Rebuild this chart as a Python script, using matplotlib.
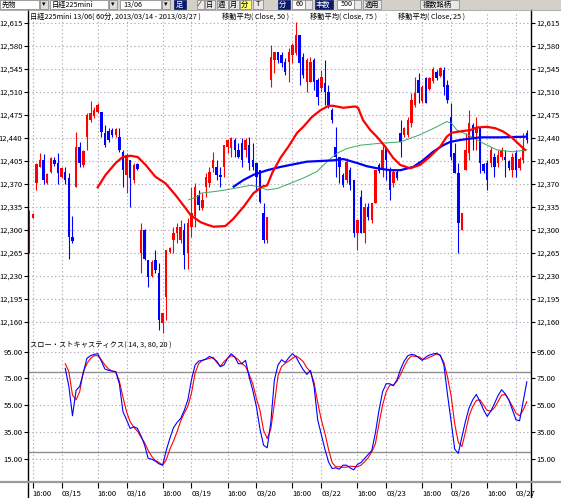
import matplotlib
matplotlib.use('Agg')
import matplotlib.pyplot as plt
from matplotlib.patches import Rectangle
from matplotlib.lines import Line2D

plt.rcParams['font.family'] = ['Noto Sans CJK JP', 'DejaVu Sans']

# ---------------- data ----------------
opens = [12270, 12318, 12372, 12396, 12406, 12372, 12389, 12406, 12402, 12381,
         12388, 12379, 12290, 12365, 12426, 12399, 12442, 12467, 12473, 12480,
         12480, 12448, 12450, 12452, 12444, 12442, 12419, 12384, 12406, 12376,
         12400, 12265, 12300, 12254, 12230, 12254, 12235, 12159, 12198, 12266,
         12285, 12296, 12285, 12300, 12265, 12305, 12322, 12353, 12333, 12365,
         12371, 12394, 12396, 12384, 12396, 12426, 12425, 12437, 12422, 12432,
         12422, 12429, 12406, 12402, 12391, 12326, 12285, 12528, 12559, 12571,
         12566, 12556, 12556, 12566, 12569, 12597, 12563, 12525, 12525, 12559,
         12528, 12516, 12524, 12510, 12483, 12426, 12411, 12384, 12376, 12391,
         12376, 12295, 12350, 12295, 12335, 12315, 12341, 12399, 12391, 12426,
         12391, 12371, 12388, 12448, 12444, 12445, 12463, 12490, 12528, 12496,
         12531, 12515, 12527, 12540, 12534, 12543, 12521, 12472, 12417, 12387,
         12300, 12391, 12417, 12460, 12448, 12457, 12400, 12402, 12402, 12411,
         12402, 12411, 12411, 12405, 12391, 12417, 12394, 12406, 12448]
highs = [12330, 12326, 12402, 12417, 12416, 12387, 12411, 12411, 12417, 12396,
         12396, 12387, 12322, 12449, 12434, 12422, 12478, 12496, 12487, 12493,
         12480, 12460, 12455, 12455, 12455, 12455, 12422, 12417, 12406, 12402,
         12402, 12311, 12302, 12254, 12254, 12270, 12250, 12174, 12270, 12274,
         12305, 12311, 12315, 12310, 12318, 12365, 12372, 12361, 12356, 12387,
         12396, 12419, 12406, 12396, 12429, 12437, 12442, 12440, 12432, 12440,
         12440, 12442, 12432, 12402, 12391, 12341, 12320, 12582, 12571, 12571,
         12571, 12562, 12577, 12585, 12617, 12597, 12569, 12562, 12563, 12562,
         12531, 12543, 12559, 12521, 12486, 12457, 12411, 12387, 12410, 12396,
         12376, 12315, 12361, 12341, 12341, 12341, 12391, 12402, 12432, 12426,
         12396, 12391, 12391, 12467, 12457, 12472, 12508, 12533, 12539, 12521,
         12533, 12533, 12548, 12543, 12548, 12548, 12528, 12493, 12432, 12402,
         12326, 12448, 12483, 12463, 12472, 12457, 12402, 12406, 12426, 12417,
         12422, 12426, 12422, 12406, 12417, 12422, 12411, 12448, 12452]
lows = [12265, 12318, 12361, 12396, 12370, 12370, 12387, 12397, 12370, 12379,
        12370, 12256, 12280, 12365, 12396, 12396, 12422, 12464, 12470, 12478,
        12442, 12426, 12434, 12442, 12442, 12419, 12365, 12356, 12335, 12372,
        12391, 12235, 12254, 12213, 12228, 12235, 12148, 12143, 12163, 12265,
        12265, 12280, 12280, 12240, 12240, 12290, 12305, 12330, 12330, 12350,
        12365, 12388, 12376, 12365, 12381, 12417, 12411, 12411, 12410, 12396,
        12411, 12391, 12391, 12361, 12341, 12280, 12280, 12518, 12539, 12554,
        12548, 12536, 12525, 12554, 12566, 12521, 12531, 12510, 12525, 12513,
        12490, 12510, 12490, 12486, 12463, 12381, 12372, 12365, 12372, 12361,
        12289, 12270, 12295, 12280, 12315, 12311, 12341, 12387, 12381, 12376,
        12346, 12365, 12376, 12411, 12442, 12442, 12457, 12487, 12493, 12493,
        12493, 12513, 12524, 12528, 12533, 12505, 12493, 12406, 12387, 12265,
        12300, 12391, 12406, 12422, 12422, 12387, 12387, 12361, 12396, 12381,
        12396, 12406, 12381, 12391, 12381, 12381, 12391, 12402, 12432]
closes = [12326, 12325, 12400, 12406, 12376, 12385, 12409, 12400, 12387, 12394,
          12376, 12290, 12283, 12426, 12402, 12420, 12475, 12478, 12483, 12490,
          12449, 12429, 12437, 12445, 12453, 12422, 12391, 12414, 12379, 12399,
          12393, 12300, 12256, 12228, 12252, 12239, 12163, 12174, 12270, 12273,
          12295, 12305, 12305, 12262, 12310, 12326, 12365, 12338, 12346, 12381,
          12388, 12406, 12384, 12381, 12429, 12437, 12440, 12422, 12411, 12406,
          12437, 12402, 12396, 12381, 12342, 12285, 12320, 12563, 12571, 12559,
          12554, 12540, 12571, 12581, 12597, 12554, 12536, 12559, 12556, 12525,
          12502, 12533, 12510, 12490, 12467, 12411, 12396, 12368, 12403, 12368,
          12295, 12315, 12295, 12335, 12320, 12341, 12391, 12390, 12422, 12406,
          12361, 12388, 12379, 12434, 12455, 12467, 12498, 12508, 12508, 12518,
          12493, 12531, 12545, 12531, 12546, 12518, 12498, 12411, 12387, 12311,
          12326, 12422, 12463, 12442, 12457, 12402, 12390, 12376, 12422, 12396,
          12414, 12422, 12406, 12394, 12411, 12391, 12408, 12426, 12437]

# moving averages (bar index, value)
ma_red_idx = [19, 21.2, 24, 25.9, 28.1, 30.1, 32.3, 35, 37.8, 40.6, 43.4, 44.7, 47.5,
              49.4, 51.1, 54.4, 56.6, 59.4, 62.2, 64.6, 66, 67.4, 69.7, 71.9, 74.3,
              76, 78.4, 80.7, 83, 84.3, 87.1, 90.4, 91.2, 92.6, 94.6, 96.4, 98.7,
              100.9, 102.9, 105.6, 108.4, 111.2, 114, 115.8, 117.2, 119.5, 122.3,
              124.1, 126.9, 129.2, 131.4, 133.8, 136.1, 137.5]
ma_red_val = [12365, 12384, 12402, 12411, 12413, 12411, 12399, 12381, 12371, 12353,
              12333, 12323, 12312, 12308, 12305, 12306, 12317, 12335, 12356, 12366,
              12368, 12387, 12410, 12427, 12448, 12457, 12472, 12482, 12489, 12489,
              12486, 12488, 12486, 12467, 12452, 12442, 12427, 12410, 12399, 12394,
              12399, 12412, 12427, 12442, 12448, 12450, 12452, 12456, 12457, 12455,
              12450, 12441, 12429, 12422]
ma_blue_idx = [56.7, 59.4, 62.2, 66, 69.7, 73.3, 77, 80.7, 84.3, 87.1, 90.9, 93.7,
               96.4, 100.1, 102.9, 106.5, 109.2, 112, 114.8, 116.7, 119.5, 125,
               130.6, 138]
ma_blue_val = [12366, 12376, 12384, 12391, 12396, 12400, 12404, 12405, 12406, 12408,
               12402, 12397, 12394, 12391, 12391, 12396, 12406, 12419, 12429, 12434,
               12437, 12441, 12441, 12442]
ma_green_idx = [44.2, 46.7, 47.5, 52.1, 56.6, 61.3, 63.6, 66, 68.7, 72.4, 76, 79.8,
                82.6, 85.4, 88.1, 91.8, 97.3, 102.9, 108.4, 113, 115.8, 117.2, 118.6,
                122.3, 125.9, 129.7, 134.2, 138]
ma_green_val = [12346, 12351, 12356, 12359, 12363, 12368, 12366, 12361, 12363, 12371,
                12379, 12389, 12404, 12417, 12424, 12429, 12432, 12434, 12445, 12457,
                12465, 12462, 12452, 12443, 12432, 12422, 12419, 12422]

stoch_start = 10
stoch_k = [82.5, 69, 47, 66, 69, 79, 90, 92, 93, 93.5,
           88, 82, 81, 80.5, 80, 71, 50, 44, 37.5, 38.8,
           37.6, 32, 25, 15, 14.5, 13, 11, 10, 21, 30,
           38, 42, 45, 51, 59, 74, 85, 88, 88.5, 89.5,
           91.5, 90, 88, 83.8, 85, 90, 93.5, 91, 86, 86,
           88.5, 76, 66, 54, 37, 25, 23, 42, 74, 85,
           89, 87, 90.5, 93.5, 91, 86, 81.5, 78, 81, 69,
           44, 33, 22, 12.5, 7.5, 8, 7, 10, 10, 8,
           6.5, 10.5, 12, 15, 18, 21, 34, 51, 65, 71,
           71, 69.5, 74, 82, 88, 92, 93, 92.5, 90.5, 88.5,
           91, 92.5, 93.3, 93.8, 92.5, 85, 63, 43, 22, 18.8,
           31.3, 43, 53, 59, 63, 57.5, 51.5, 46.5, 50.5, 56,
           62, 66.5, 63.5, 59, 51.5, 44, 43.3, 58, 72.5]
stoch_d = [86, 80, 62.5, 59, 65, 80, 86, 90, 92, 92,
           89, 85, 82, 80.5, 80, 73, 61, 50, 42.5, 38.5,
           35.5, 31, 27, 21, 16.5, 13.5, 12, 10, 14, 22,
           28, 35, 43, 49, 54, 64, 79, 86, 88.5, 89.3,
           90, 90.8, 87, 84, 87.5, 90, 92, 91, 89, 86,
           84, 78, 71, 60, 51, 36, 30, 37, 56, 77,
           84, 86.3, 88, 90, 91.8, 90, 87.5, 83, 80, 72,
           57, 44, 34, 22, 12, 8.8, 8.8, 8.5, 8.5, 9.3,
           9, 8.8, 10, 12.5, 15.5, 20, 26, 41, 55, 65,
           70, 70, 73, 78, 84, 89, 91.8, 91.5, 91.3, 89.5,
           89.5, 90.8, 92, 93.3, 92, 87, 76, 62, 41, 27,
           24, 35, 47, 54, 58.5, 59, 55, 51, 50.5, 53,
           57.5, 62.5, 63, 59, 54, 49, 47, 51.3, 57.5]

price_ticks = [12160, 12195, 12230, 12265, 12300, 12335, 12370, 12405, 12440,
               12475, 12510, 12545, 12580, 12615]
stoch_ticks = [15, 35, 55, 75, 95]
grid_bars = [1, 9, 19, 27, 37, 45, 55, 63, 73, 81, 91, 99, 109, 117, 127, 135]
grid_labels = ['16:00', '03/15', '16:00', '03/16', '16:00', '03/19', '16:00', '03/20',
               '16:00', '03/22', '16:00', '03/23', '16:00', '03/26', '16:00', '03/27']

# ---------------- layout ----------------
W, H = 561, 498
fig = plt.figure(figsize=(W / 100, H / 100), dpi=100)
fig.patch.set_facecolor('white')


def FX(px):
    return px / W


def FY(py):
    return 1 - py / H


L, R = 28, 531
T_MAIN, B_MAIN, B_ST = 12, 340, 482
X0, DX = 29.2, 3.606

ax = fig.add_axes([FX(L), FY(B_MAIN), FX(R) - FX(L), FY(T_MAIN) - FY(B_MAIN)])
axs = fig.add_axes([FX(L), FY(B_ST), FX(R) - FX(L), FY(B_MAIN) - FY(B_ST)])

xlim = ((L - X0) / DX, (R - X0) / DX)
PY0, PK = 12650.0, 1.5217
ax.set_xlim(*xlim)
ax.set_ylim(PY0 - PK * B_MAIN, PY0 - PK * T_MAIN)
axs.set_xlim(*xlim)
SY0, SK = 351.7, 1.335
axs.set_ylim(95 - (B_ST - SY0) / SK, 95 + (SY0 - B_MAIN) / SK)

grid_col = '#b8a8bc'
for a in (ax, axs):
    for s in a.spines.values():
        s.set_visible(False)
    a.set_facecolor('white')
    a.set_xticks(grid_bars)
    a.grid(True, color=grid_col, linestyle=(0, (1.2, 2.2)), linewidth=0.8)
    a.set_axisbelow(True)
    a.tick_params(axis='y', which='both', left=True, right=True, labelleft=True,
                  labelright=True, length=3, width=0.8, pad=1, labelsize=5.5,
                  colors='black')

ax.set_yticks(price_ticks)
ax.set_yticklabels([f'{p:,}' for p in price_ticks])
ax.tick_params(axis='x', length=0, labelbottom=False)

axs.set_yticks(stoch_ticks)
axs.set_yticklabels([f'{v:.2f}' for v in stoch_ticks])
axs.set_xticklabels(grid_labels)
axs.tick_params(axis='x', length=4, width=0.8, pad=1.5, labelsize=5.5, colors='black')
for lbl in axs.get_xticklabels():
    lbl.set_horizontalalignment('left')

# ---------------- candles ----------------
for i in range(len(opens)):
    o, h, l, c = opens[i], highs[i], lows[i], closes[i]
    col = '#ff0000' if c >= o else '#0000ff'
    ax.vlines(i, l, h, color=col, linewidth=0.8, zorder=3)
    bh = max(abs(c - o), 1.6)
    ax.bar(i, bh, bottom=min(o, c), width=0.68, color=col, linewidth=0, zorder=3)

ax.plot(ma_green_idx, ma_green_val, color='#3aa860', linewidth=0.7, zorder=4)
ax.plot(ma_blue_idx, ma_blue_val, color='#0000ff', linewidth=1.6, zorder=5)
ax.plot(ma_red_idx, ma_red_val, color='#ff0000', linewidth=1.6, zorder=5)

# ---------------- stochastics ----------------
sx = list(range(stoch_start, stoch_start + len(stoch_k)))
axs.axhline(80, color='#909090', linewidth=1.0, zorder=2)
axs.axhline(20, color='#909090', linewidth=1.0, zorder=2)
axs.plot(sx, stoch_d, color='#ff0000', linewidth=0.8, zorder=4)
axs.plot(sx, stoch_k, color='#0000ff', linewidth=0.8, zorder=5)

# ---------------- frame lines ----------------
fig.add_artist(Line2D([FX(L), FX(L)], [FY(10), 0], color='black', linewidth=1.0))
fig.add_artist(Line2D([FX(R), FX(R)], [FY(10), 0], color='black', linewidth=1.0))
fig.add_artist(Line2D([0, 1], [FY(B_ST), FY(B_ST)], color='#9a9a9a', linewidth=1.6))

# ---------------- titles ----------------
tf = dict(fontsize=5.2, va='center', ha='left', color='black')
fig.text(FX(30), FY(17), '日経225mini 13/06( 60分, 2013/03/14 - 2013/03/27 )', **tf)
fig.text(FX(222), FY(17), '移動平均( Close, 50 )', **tf)
fig.text(FX(310), FY(17), '移動平均( Close, 75 )', **tf)
fig.text(FX(398), FY(17), '移動平均( Close, 25 )', **tf)
fig.text(FX(30), FY(345), 'スロー・ストキャスティクス( 14, 3, 80, 20 )', **tf)

# ---------------- toolbar ----------------
fig.add_artist(Rectangle((0, FY(10)), 1, 10 / H, facecolor='#d4d0c8', edgecolor='none'))
fig.add_artist(Line2D([0, 1], [FY(10), FY(10)], color='#a0a0a0', linewidth=0.6))


def box(x0, x1, fc, ec='#808080'):
    fig.add_artist(Rectangle((FX(x0), FY(9)), FX(x1) - FX(x0), 9 / H,
                             facecolor=fc, edgecolor=ec, linewidth=0.5))


def ttext(x, s, col='black', size=5.2):
    fig.text(FX(x), FY(4.5), s, fontsize=size, color=col, va='center', ha='left')


box(0, 39, 'white'); ttext(2, '先物')
box(40, 48, '#e0ddd6'); ttext(41.5, '▾', size=5)
box(50, 108, 'white'); ttext(52, '日経225mini')
box(109, 117, '#e0ddd6'); ttext(110.5, '▾', size=5)
box(120, 161, 'white'); ttext(123, '13/06')
box(162, 170, '#e0ddd6'); ttext(163.5, '▾', size=5)
box(174, 186, '#0a1a6a', ec='#0a1a6a'); ttext(175.5, '足', col='white')
box(197, 204, '#e8e8e8'); ttext(198, '⁄', size=5)
box(205, 215, '#e8e8e8'); ttext(205.5, '日')
box(217, 228, '#e8e8e8'); ttext(217.5, '週')
box(229, 239, '#e8e8e8'); ttext(229.5, '月')
box(240, 251, '#ffff66'); ttext(240.5, '分')
box(253, 263, '#e8e8e8'); ttext(255.5, 'T')
box(278, 290, '#0a1a6a', ec='#0a1a6a'); ttext(279, '分', col='white')
box(292, 305, 'white'); ttext(296, '60')
box(305, 312, '#e8e8e8')
box(315, 333, '#0a1a6a', ec='#0a1a6a'); ttext(316, '本数', col='white')
box(337, 354, 'white'); ttext(341, '500')
box(354, 361, '#e8e8e8')
box(363, 381, '#e8e8e8'); ttext(365, '適用')
box(420, 459, '#e8e8e8'); ttext(423, '複数銘柄')

fig.savefig('out.png', dpi=100, facecolor='white')
